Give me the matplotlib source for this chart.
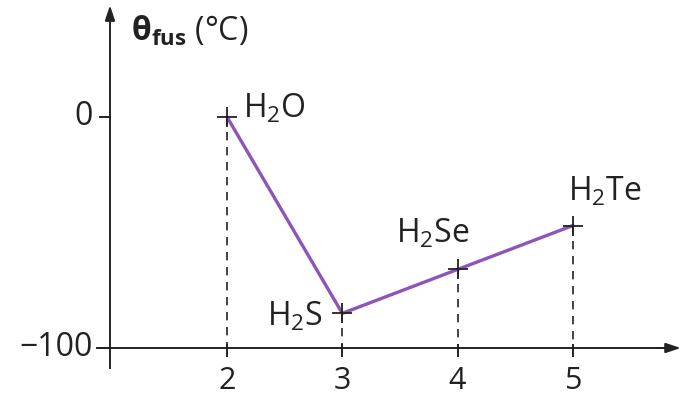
import matplotlib.pyplot as plt

plt.rcParams['font.family'] = ['Open Sans', 'DejaVu Sans']
plt.rcParams['mathtext.fontset'] = 'custom'
plt.rcParams['mathtext.rm'] = 'Open Sans'
plt.rcParams['mathtext.bf'] = 'Open Sans:bold'
plt.rcParams['mathtext.default'] = 'regular'

# period of the chalcogen and melting point (deg C)
period = [2, 3, 4, 5]
theta_fus = [0, -85, -66, -47]
names = [r'H$_2$O', r'H$_2$S', r'H$_2$Se', r'H$_2$Te']
x_ticks = [2, 3, 4, 5]
y_ticks = [0, -100]
y_tick_labels = ['0', '−100']

purple = '#8e55b8'
ink = '#222222'

fig = plt.figure(figsize=(6.87, 4.09), dpi=100)
ax = fig.add_axes([0, 0, 1, 1])
ax.set_xlim(0.031, 5.99)
ax.set_ylim(-126.4, 50.6)

# axes drawn by hand (origin at x=1, y=-100)
x0, y0 = 0.985, -100
ax.plot([x0, x0], [-108.7, 46], color=ink, lw=1.4, zorder=3)
ax.plot([0.87, 5.8], [y0, y0], color=ink, lw=1.4, zorder=3)
ax.annotate('', xy=(x0, 49.5), xytext=(x0, 40),
            arrowprops=dict(arrowstyle='-|>,head_length=0.9,head_width=0.3',
                            color=ink, lw=1.4))
ax.annotate('', xy=(5.96, y0), xytext=(5.7, y0),
            arrowprops=dict(arrowstyle='-|>,head_length=0.9,head_width=0.3',
                            color=ink, lw=1.4))

# y ticks
for v, lab in zip(y_ticks, y_tick_labels):
    ax.plot([x0 - 0.09, x0], [v, v], color=ink, lw=1.4)
    ax.text(x0 - 0.15, v, lab, ha='right', va='center', fontsize=23, color=ink)

# x ticks
for v in x_ticks:
    ax.plot([v, v], [y0 - 3.5, y0 + 1.5], color=ink, lw=1.4)
    ax.text(v, y0 - 8, str(v), ha='center', va='top', fontsize=22, color=ink)

# dashed drop lines
for xv, yv in zip(period, theta_fus):
    ax.plot([xv, xv], [yv, y0], color=ink, lw=1.2, ls=(0, (5, 4)), zorder=1)

ax.plot(period, theta_fus, color=purple, lw=2.4, zorder=2)
ax.plot(period, theta_fus, ls='none', marker='+', ms=15, mew=1.3,
        color=ink, zorder=4)

# labels
ax.text(2.14, -0.5, names[0], ha='left', va='baseline', fontsize=23, color=ink)
ax.text(2.83, -90.5, names[1], ha='right', va='baseline', fontsize=23, color=ink)
ax.text(3.47, -54.5, names[2], ha='left', va='baseline', fontsize=23, color=ink)
ax.text(4.96, -36, names[3], ha='left', va='baseline', fontsize=23, color=ink)

ax.text(1.17, 33, r'$\mathbf{θ_{fus}}$ (°C)', ha='left', va='baseline',
        fontsize=23, color=ink)

ax.axis('off')
fig.savefig('out.png', dpi=100)
